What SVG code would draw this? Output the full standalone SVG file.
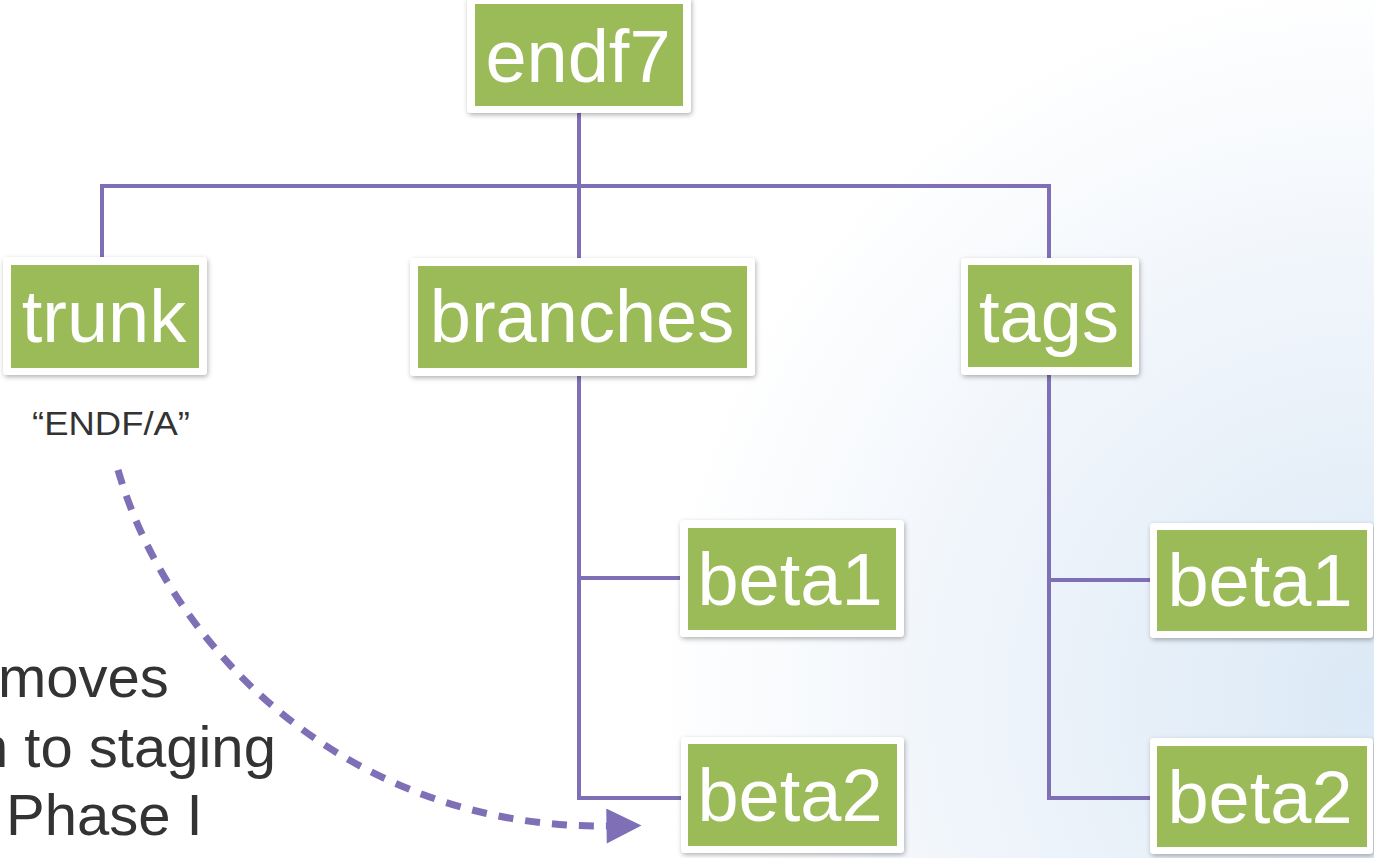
<svg xmlns="http://www.w3.org/2000/svg" width="1374" height="858" viewBox="0 0 1374 858">
<defs>
<radialGradient id="bg" cx="1374" cy="700" r="720" gradientUnits="userSpaceOnUse">
<stop offset="0" stop-color="#dbe9f6"/>
<stop offset="0.5" stop-color="#edf3fa"/>
<stop offset="1" stop-color="#ffffff"/>
</radialGradient>
<filter id="sh" x="-20%" y="-20%" width="140%" height="140%">
<feDropShadow dx="1" dy="2" stdDeviation="2.5" flood-color="#000" flood-opacity="0.3"/>
</filter>
<marker id="ah" viewBox="0 0 10 10" refX="1" refY="5" markerWidth="5.2" markerHeight="5" markerUnits="strokeWidth" orient="auto">
<path d="M0 0 L10 5 L0 10 Z" fill="#7f6fb6"/>
</marker>
</defs>
<style>
.o{fill:#ffffff;filter:url(#sh)}
.g{fill:#9bbb59}
.t{font-family:"Liberation Sans",Arial,sans-serif;font-size:74px;fill:#ffffff;text-anchor:middle}
.c{fill:none;stroke:#7f6fb6;stroke-width:4}
.n{font-family:"Liberation Sans",Arial,sans-serif;fill:#333333}
</style>
<rect width="1374" height="858" fill="url(#bg)"/>
<g id="connectors">
<path class="c" d="M102 258 V186 H1049 V258"/>
<path class="c" d="M579 113 V258"/>
<path class="c" d="M579 376 V798 H688"/>
<path class="c" d="M579 578 H688"/>
<path class="c" d="M1049 375 V798 H1157"/>
<path class="c" d="M1049 580 H1157"/>
<path d="M118 470 C170 650 350 830 610 826" fill="none" stroke="#7f6fb6" stroke-width="7" stroke-dasharray="15 12" marker-end="url(#ah)"/>
</g>
<g id="endf7"><rect class="o" x="467" y="-3" width="224" height="116" rx="4"/><rect class="g" x="475" y="4" width="208" height="102"/><text class="t" x="578" y="82">endf7</text></g>
<g id="trunk"><rect class="o" x="3" y="257" width="204" height="118" rx="4"/><rect class="g" x="11" y="265" width="188" height="103"/><text class="t" x="104" y="342">trunk</text></g>
<g id="branches"><rect class="o" x="410" y="258" width="345" height="118" rx="4"/><rect class="g" x="418" y="266" width="329" height="102"/><text class="t" x="582" y="342">branches</text></g>
<g id="tags"><rect class="o" x="961" y="258" width="178" height="117" rx="4"/><rect class="g" x="968" y="265" width="164" height="102"/><text class="t" x="1049" y="342">tags</text></g>
<g id="branches-beta1"><rect class="o" x="680" y="520" width="224" height="117" rx="4"/><rect class="g" x="688" y="528" width="208" height="102"/><text class="t" x="790" y="605">beta1</text></g>
<g id="branches-beta2"><rect class="o" x="681" y="737" width="223" height="116" rx="4"/><rect class="g" x="688" y="744" width="209" height="102"/><text class="t" x="790" y="821">beta2</text></g>
<g id="tags-beta1"><rect class="o" x="1150" y="523" width="223" height="115" rx="4"/><rect class="g" x="1157" y="530" width="210" height="101"/><text class="t" x="1260" y="606">beta1</text></g>
<g id="tags-beta2"><rect class="o" x="1150" y="738" width="223" height="116" rx="4"/><rect class="g" x="1157" y="746" width="210" height="101"/><text class="t" x="1260" y="823">beta2</text></g>
<g id="labels">
<text class="n" x="32" y="435" font-size="34" textLength="158" lengthAdjust="spacingAndGlyphs">“ENDF/A”</text>
<text class="n" x="-2" y="697" font-size="58">moves</text>
<text class="n" x="-24" y="767" font-size="58">n to staging</text>
<text class="n" x="6" y="835" font-size="58">Phase I</text>
</g>
</svg>
